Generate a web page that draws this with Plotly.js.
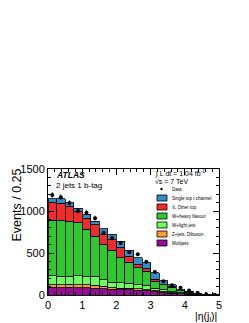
<!DOCTYPE html>
<html><head><meta charset="utf-8">
<script src="https://cdn.plot.ly/plotly-3.0.1.min.js"></script>
<style>html,body{margin:0;padding:0;background:#fff;}#chart{width:249px;height:323px;}</style>
</head><body><div id="chart"></div>
<script>
// |eta(j_l)| bin centres (bin width 0.25)
const binCenters = [0.125,0.375,0.625,0.875,1.125,1.375,1.625,1.875,2.125,2.375,2.625,2.875,3.125,3.375,3.625,3.875,4.125,4.375,4.625,4.875];
// stacked MC components (events per bin)
const multijets  = [90,88,92,88,85,82,75,68,62,62,55,48,40,28,20,12,6,3,1,0];
const zjetsDibos = [35,34,36,34,35,36,27,17,18,18,17,14,10,8,6,4,3,1,0,0];
const wLight     = [107,100,94,106,106,106,80,65,68,60,50,56,32,24,14,8,5,2,1,1];
const wHeavy     = [658,663,658,632,554,476,418,383,295,250,202,165,83,60,55,26,19,6,2,0];
const ttbarOther = [210,210,170,130,135,135,120,127,119,72,39,29,20,9,3,2,3,2,1,0];
const singleTopT = [45,50,50,45,45,45,70,65,78,71,80,71,77,41,23,13,9,4,1,1];
// data
const dataY   = [1190,1165,1095,1000,980,915,740,680,620,510,485,395,275,165,115,85,55,28,8,2];
const dataErr = [34,34,33,32,31,30,27,26,25,23,22,20,17,13,11,9,7,5,3,1.5];

const legendLabels = ["Data","Single top t channel","t\u0304t, Other top","W+heavy flavour","W+light jets","Z+jets, Diboson","Multijets"];
const colors = {single:"#2f8fcc", ttbar:"#f22a2a", whf:"#2fc92f", wlf:"#6cff5c", z:"#ff9a2e", mj:"#9a0a9a"};

const L=48, R=30, T=169, B=28, W=249, H=323;
const PW = W-L-R, PH = H-T-B;
const X = px => (px-L)/PW;
const Y = py => (H-B-py)/PH;

function bar(y, name, color){
  return {type:'bar', x:binCenters, y:y, name:name, width:0.25,
    marker:{color:color, line:{color:'#000', width:0.8}}, showlegend:false, hoverinfo:'skip'};
}
const traces = [
  bar(multijets, legendLabels[6], colors.mj),
  bar(zjetsDibos, legendLabels[5], colors.z),
  bar(wLight, legendLabels[4], colors.wlf),
  bar(wHeavy, legendLabels[3], colors.whf),
  bar(ttbarOther, legendLabels[2], colors.ttbar),
  bar(singleTopT, legendLabels[1], colors.single),
  {type:'scatter', mode:'markers', x:binCenters, y:dataY, name:legendLabels[0],
   marker:{color:'#000', size:4}, error_y:{type:'data', array:dataErr, color:'#000', thickness:0.8, width:0},
   showlegend:false}
];

const FONT = 'Liberation Sans, Arial, sans-serif';
const shapes = [];
const annotations = [];
// legend
const legColors = [null, colors.single, colors.ttbar, colors.whf, colors.wlf, colors.z, colors.mj];
const legY0 = 189, legDY = 9;
legendLabels.forEach((lab, i) => {
  const cy = legY0 + i*legDY;
  if (i === 0) {
    shapes.push({type:'circle', xref:'paper', yref:'paper', x0:X(160.3), x1:X(162.7), y0:Y(cy+1.2), y1:Y(cy-1.2),
      fillcolor:'#000', line:{color:'#000', width:0}});
  } else {
    shapes.push({type:'rect', xref:'paper', yref:'paper', x0:X(157), x1:X(167), y0:Y(cy+3), y1:Y(cy-3),
      fillcolor:legColors[i], line:{color:'#000', width:0.8}});
  }
  annotations.push({xref:'paper', yref:'paper', x:X(169.5), y:Y(cy), xanchor:'left', yanchor:'middle',
    text:lab, showarrow:false, font:{family:FONT, size:4.5, color:'#000'}});
});
annotations.push({xref:'paper', yref:'paper', x:X(54), y:Y(175), xanchor:'left', yanchor:'middle',
  text:'<b><i>ATLAS</i></b>', showarrow:false, font:{family:FONT, size:8.5, color:'#000'}});
annotations.push({xref:'paper', yref:'paper', x:X(54), y:Y(185), xanchor:'left', yanchor:'middle',
  text:'2 jets 1 b-tag', showarrow:false, font:{family:FONT, size:8, color:'#000'}});
annotations.push({xref:'paper', yref:'paper', x:X(153), y:Y(173.5), xanchor:'left', yanchor:'middle',
  text:'\u222B L dt = 1.04 fb<sup>-1</sup>', showarrow:false, font:{family:FONT, size:7, color:'#000'}});
annotations.push({xref:'paper', yref:'paper', x:X(153), y:Y(181), xanchor:'left', yanchor:'middle',
  text:'\u221As = 7 TeV', showarrow:false, font:{family:FONT, size:7, color:'#000'}});
// axis titles
annotations.push({xref:'paper', yref:'paper', x:X(16), y:Y(167), xanchor:'center', yanchor:'top', textangle:-90,
  text:'Events / 0.25', showarrow:false, font:{family:FONT, size:12.5, color:'#000'}});
annotations.push({xref:'paper', yref:'paper', x:X(219), y:Y(316.5), xanchor:'right', yanchor:'middle',
  text:'|\u03B7(j<sub>l</sub>)|', showarrow:false, font:{family:FONT, size:10.5, color:'#000'}});

const axisCommon = {showline:true, linecolor:'#000', linewidth:1, mirror:'allticks', ticks:'inside',
  tickcolor:'#000', showgrid:false, zeroline:false, tickfont:{family:FONT, size:11, color:'#000'}};
const layout = {
  width:W, height:H, margin:{l:L, r:R, t:T, b:B, pad:0},
  paper_bgcolor:'#fff', plot_bgcolor:'#fff', barmode:'stack', bargap:0, showlegend:false,
  xaxis:Object.assign({}, axisCommon, {range:[0,5], tickvals:[0,1,2,3,4,5], ticklen:6,
    minor:{dtick:0.2, ticks:'inside', ticklen:3, tickcolor:'#000'}}),
  yaxis:Object.assign({}, axisCommon, {range:[0,1500], tickvals:[0,500,1000,1500], ticklen:6,
    minor:{dtick:100, ticks:'inside', ticklen:3, tickcolor:'#000'}}),
  shapes:shapes, annotations:annotations
};
Plotly.newPlot('chart', traces, layout, {staticPlot:true, displayModeBar:false});
</script></body></html>
